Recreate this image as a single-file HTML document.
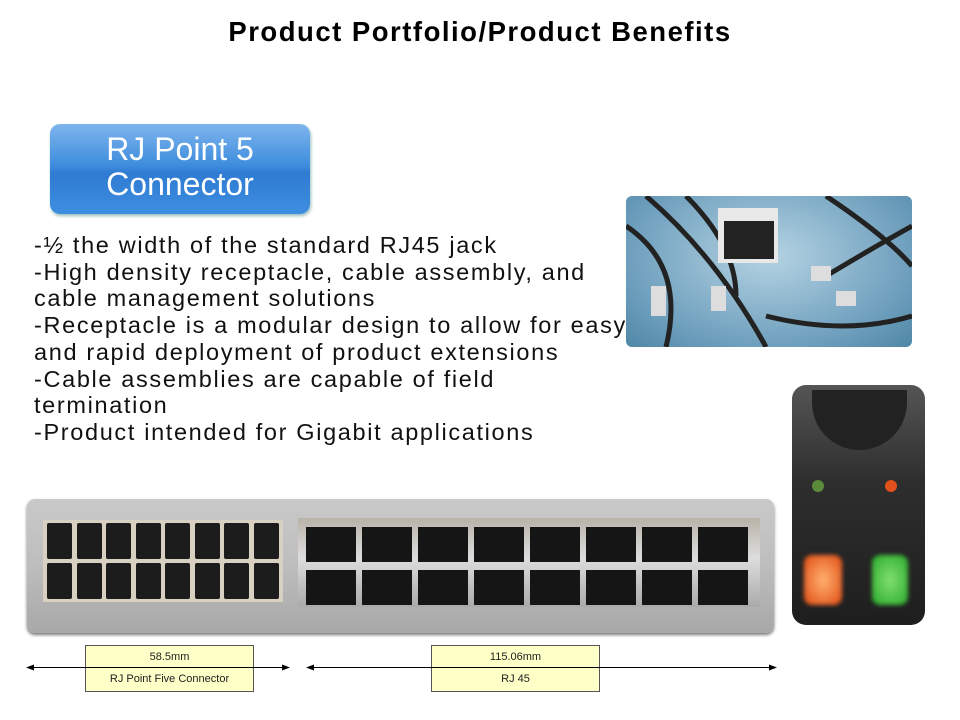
<!DOCTYPE html>
<html><head><style>
body{margin:0;width:960px;height:720px;background:#fff;position:relative;overflow:hidden;font-family:"Liberation Sans",sans-serif}
.a{position:absolute}
.title{left:0;width:960px;top:16px;text-align:center;font-weight:bold;font-size:27.5px;letter-spacing:1.5px}
.btn{left:50px;top:124px;width:260px;height:90px;border-radius:10px;background:linear-gradient(#7fb4ec,#3f8ede 45%,#2f7bd3 55%,#3d8ee0);box-shadow:1px 2px 3px #9bb;color:#fff;text-align:center;font-size:32px;line-height:35px;padding-top:8px;box-sizing:border-box}
.txt{left:34px;top:232px;font-size:23.5px;line-height:26.7px;color:#111;letter-spacing:1.65px;white-space:nowrap}
.panel{left:27px;top:499px;width:747px;height:134px;border-radius:8px;background:linear-gradient(#c9c9c9,#bdbdbd 50%,#a8a8a8);box-shadow:0 2px 3px #777}
.lb{left:43px;top:520px;width:240px;height:82px;background:#d8d0c0}
.lp{width:25px;height:36px;background:#1c1c1c;position:absolute;border-radius:2px}
.rb{left:298px;top:518px;width:462px;height:89px;background:linear-gradient(#b8b3a8,#ddd 45%,#aaa)}
.rp{width:50px;height:35px;background:#151515;position:absolute}
.box{background:#ffffc8;border:1px solid #555;font-size:11px;text-align:center;line-height:22px;color:#222}
</style></head><body>
<div class="a title">Product Portfolio/Product Benefits</div>
<div class="a btn">RJ Point 5<br>Connector</div>
<div class="a txt">-½ the width of the standard RJ45 jack<br>-High density receptacle, cable assembly, and<br>cable management solutions<br>-Receptacle is a modular design to allow for easy<br>and rapid deployment of product extensions<br>-Cable assemblies are capable of field<br>termination<br>-Product intended for Gigabit applications</div>

<div class="a" style="left:626px;top:196px;width:286px;height:151px;border-radius:6px;background:radial-gradient(ellipse at 50% 40%,#b5d3e3,#6e9fbd 70%,#4f86a6);overflow:hidden">
<svg width="286" height="151"><g stroke="#222" stroke-width="5" fill="none"><path d="M0 30 Q60 70 40 151"/><path d="M20 0 Q90 60 140 151"/><path d="M60 0 Q110 50 110 100"/><path d="M140 120 Q220 140 286 120"/><path d="M200 0 Q260 40 286 70"/><path d="M200 80 Q250 50 286 30"/></g>
<rect x="92" y="12" width="60" height="55" fill="#e8e8e8"/><rect x="98" y="25" width="50" height="38" fill="#222"/>
<rect x="25" y="90" width="15" height="30" fill="#ddd"/><rect x="85" y="90" width="15" height="25" fill="#ddd"/><rect x="185" y="70" width="20" height="15" fill="#ddd"/><rect x="210" y="95" width="20" height="15" fill="#ddd"/></svg></div>

<div class="a" style="left:792px;top:385px;width:133px;height:240px;border-radius:14px;background:linear-gradient(#555,#2e2e2e 40%,#1e1e1e);overflow:hidden">
<div class="a" style="left:20px;top:5px;width:95px;height:60px;border-radius:0 0 50px 50px;background:#222"></div>
<div class="a" style="left:20px;top:95px;width:12px;height:12px;border-radius:50%;background:#5a8a3a"></div>
<div class="a" style="left:93px;top:95px;width:12px;height:12px;border-radius:50%;background:#e0501a"></div>
<div class="a" style="left:12px;top:170px;width:38px;height:50px;border-radius:8px;background:radial-gradient(#ffb070,#e04a10);filter:blur(2px)"></div>
<div class="a" style="left:80px;top:170px;width:36px;height:50px;border-radius:8px;background:radial-gradient(#80e070,#28a828);filter:blur(2px)"></div>
</div>

<div class="a panel"></div>
<div class="a lb">
<div class="lp" style="left:4px;top:3px"></div><div class="lp" style="left:34px;top:3px"></div><div class="lp" style="left:63px;top:3px"></div><div class="lp" style="left:93px;top:3px"></div><div class="lp" style="left:122px;top:3px"></div><div class="lp" style="left:152px;top:3px"></div><div class="lp" style="left:181px;top:3px"></div><div class="lp" style="left:211px;top:3px"></div>
<div class="lp" style="left:4px;top:43px"></div><div class="lp" style="left:34px;top:43px"></div><div class="lp" style="left:63px;top:43px"></div><div class="lp" style="left:93px;top:43px"></div><div class="lp" style="left:122px;top:43px"></div><div class="lp" style="left:152px;top:43px"></div><div class="lp" style="left:181px;top:43px"></div><div class="lp" style="left:211px;top:43px"></div>
</div>
<div class="a rb">
<div class="rp" style="left:8px;top:9px"></div><div class="rp" style="left:64px;top:9px"></div><div class="rp" style="left:120px;top:9px"></div><div class="rp" style="left:176px;top:9px"></div><div class="rp" style="left:232px;top:9px"></div><div class="rp" style="left:288px;top:9px"></div><div class="rp" style="left:344px;top:9px"></div><div class="rp" style="left:400px;top:9px"></div>
<div class="rp" style="left:8px;top:52px"></div><div class="rp" style="left:64px;top:52px"></div><div class="rp" style="left:120px;top:52px"></div><div class="rp" style="left:176px;top:52px"></div><div class="rp" style="left:232px;top:52px"></div><div class="rp" style="left:288px;top:52px"></div><div class="rp" style="left:344px;top:52px"></div><div class="rp" style="left:400px;top:52px"></div>
</div>

<div class="a box" style="left:85px;top:645px;width:167px;height:45px">58.5mm<br>RJ Point Five Connector</div>
<div class="a box" style="left:431px;top:645px;width:167px;height:45px">115.06mm<br>RJ 45</div>
<svg class="a" style="left:0;top:660px" width="960" height="16"><g stroke="#000" stroke-width="1"><line x1="28" y1="7.5" x2="288" y2="7.5"/><line x1="308" y1="7.5" x2="775" y2="7.5"/></g>
<g fill="#000"><path d="M26 7.5 L34 4.5 L34 10.5Z"/><path d="M290 7.5 L282 4.5 L282 10.5Z"/><path d="M306 7.5 L314 4.5 L314 10.5Z"/><path d="M777 7.5 L769 4.5 L769 10.5Z"/></g></svg>
</body></html>
